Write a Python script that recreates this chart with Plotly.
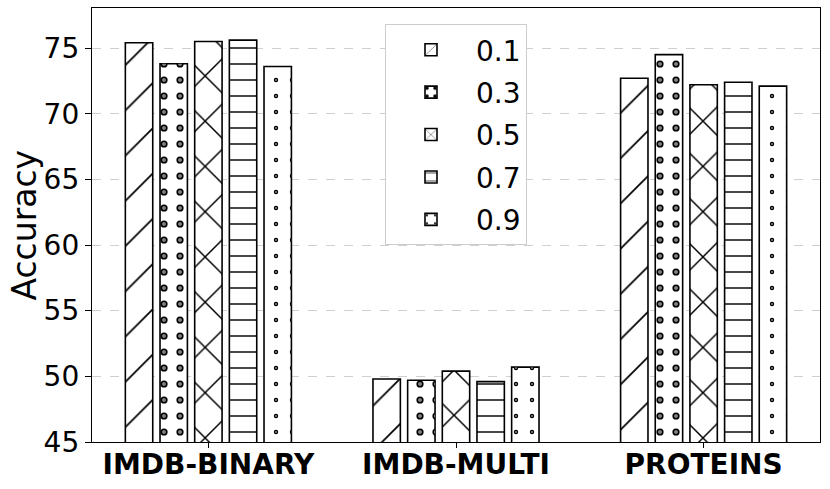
import plotly.graph_objects as go

datasets = ["IMDB-BINARY", "IMDB-MULTI", "PROTEINS"]
ratios = ["0.1", "0.3", "0.5", "0.7", "0.9"]

acc_01 = [75.4, 49.8, 72.7]
acc_03 = [73.8, 49.7, 74.5]
acc_05 = [75.5, 50.4, 72.2]
acc_07 = [75.6, 49.6, 72.4]
acc_09 = [73.6, 50.7, 72.1]

series = [acc_01, acc_03, acc_05, acc_07, acc_09]

# pattern style per ratio: (shape, size, solidity, hole solidity or None)
styles = [
    ("/", 32, 0.055, None),
    (".", 16, 0.16, 0.05),
    ("x", 32, 0.09, None),
    ("-", 16, 0.09, None),
    (".", 16, 0.06, 0.015),
]

font = "DejaVu Sans"
fig = go.Figure()

for name, vals, (shape, size, sol, hole) in zip(ratios, series, styles):
    fig.add_trace(go.Bar(
        x=datasets, y=vals, name=name, offsetgroup=name, legendgroup=name,
        marker=dict(
            color="white",
            line=dict(color="black", width=1.6),
            pattern=dict(shape=shape, size=size, solidity=sol,
                         fgcolor="black", bgcolor="white", fillmode="replace"),
        ),
    ))
    if hole is not None:
        # white centre drawn on top so the dots read as open circles
        fig.add_trace(go.Bar(
            x=datasets, y=vals, name=name, offsetgroup=name, legendgroup=name,
            showlegend=False, hoverinfo="skip",
            marker=dict(
                color="rgba(0,0,0,0)",
                line=dict(width=0),
                pattern=dict(shape=shape, size=size, solidity=hole,
                             fgcolor="white", bgcolor="rgba(0,0,0,0)",
                             fillmode="overlay"),
            ),
        ))

fig.update_layout(
    width=830, height=489,
    margin=dict(l=92, r=10, t=8, b=47),
    plot_bgcolor="white", paper_bgcolor="white",
    font=dict(family=font, size=28, color="black"),
    barmode="group", bargap=0.3, bargroupgap=0.21,
    showlegend=True,
    legend=dict(
        x=0.5, y=0.963, xanchor="center", yanchor="top",
        bgcolor="white", bordercolor="#cccccc", borderwidth=1,
        font=dict(family=font, size=28),
        itemwidth=80, tracegroupgap=3,
    ),
)

# y title as annotation so it sits where the reference has it
fig.add_annotation(
    text="Accuracy", xref="paper", yref="paper", x=-0.094, y=0.5,
    xanchor="center", yanchor="middle", textangle=-90, showarrow=False,
    font=dict(family=font, size=33),
)

fig.update_xaxes(
    range=[-0.47, 2.47], automargin=False,
    showline=True, linecolor="black", linewidth=1.3, mirror=True,
    ticks="outside", ticklen=5, tickcolor="black",
    tickfont=dict(family=font, size=28, weight="bold"),
    ticklabelstandoff=-8,
    showgrid=False,
)
fig.update_yaxes(
    range=[45, 78.05], tickvals=[45, 50, 55, 60, 65, 70, 75], automargin=False,
    showline=True, linecolor="black", linewidth=1.3, mirror=True,
    ticks="outside", ticklen=6, tickcolor="black",
    tickfont=dict(family=font, size=28),
    showgrid=True, gridcolor="#d0d0d0", griddash="dash", gridwidth=1,
    zeroline=False,
)

fig.write_html("out.html", config={"displayModeBar": False},
               post_script="document.body.style.margin='0';")
